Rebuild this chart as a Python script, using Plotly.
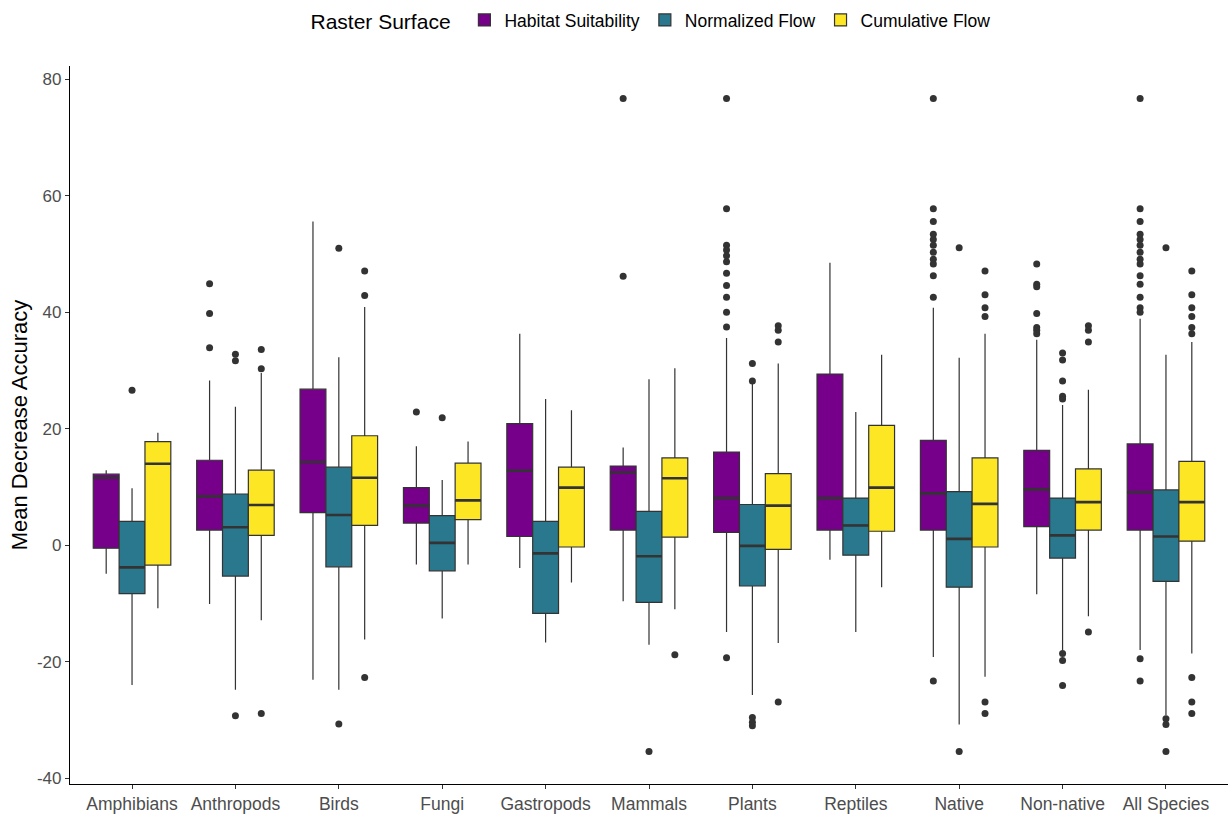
import plotly.graph_objects as go

categories = ["Amphibians", "Anthropods", "Birds", "Fungi", "Gastropods", "Mammals",
              "Plants", "Reptiles", "Native", "Non-native", "All Species"]
series_names = ["Habitat Suitability", "Normalized Flow", "Cumulative Flow"]
colors = ["#77008A", "#2A788E", "#FDE725"]
y_ticks = [-40, -20, 0, 20, 40, 60, 80]
y_tick_labels = ["-40", "-20", "0", "20", "40", "60", "80"]

# Habitat Suitability
hs_lower = [-4.9, -10.1, -23.1, -3.3, -3.9, -9.6, -14.9, -2.5, -19.2, -8.4, -18.0]
hs_q1 = [-0.5, 2.6, 5.6, 3.8, 1.5, 2.6, 2.2, 2.6, 2.6, 3.2, 2.6]
hs_med = [11.6, 8.4, 14.3, 6.8, 12.8, 12.5, 8.1, 8.1, 8.9, 9.6, 9.1]
hs_q3 = [12.2, 14.6, 26.8, 9.9, 20.9, 13.6, 16.0, 29.4, 18.0, 16.3, 17.4]
hs_upper = [12.9, 28.3, 55.6, 17.0, 36.3, 16.8, 35.6, 48.5, 40.8, 35.3, 38.9]
hs_out = [
    [],
    [44.9, 39.8, 33.9],
    [],
    [22.9],
    [],
    [76.7, 46.2],
    [76.7, 57.8, 51.5, 50.7, 49.7, 48.7, 46.7, 44.6, 42.6, 40.0, 37.5, -19.3],
    [],
    [76.7, 57.8, 55.6, 53.4, 52.5, 51.5, 50.3, 49.1, 48.3, 46.3, 42.6, -23.3],
    [48.3, 44.8, 44.4, 39.8, 37.4, 36.9, 36.3],
    [76.7, 57.8, 55.6, 53.4, 52.5, 51.5, 50.3, 49.1, 48.3, 46.3, 44.8, 42.6, 40.8, 40.0,
     -19.5, -23.3],
]

# Normalized Flow
nf_lower = [-24.0, -24.8, -24.8, -12.6, -16.7, -17.1, -25.7, -14.9, -30.8, -18.0, -29.2]
nf_q1 = [-8.3, -5.3, -3.7, -4.4, -11.7, -9.8, -7.0, -1.7, -7.2, -2.2, -6.2]
nf_med = [-3.8, 3.1, 5.2, 0.4, -1.4, -1.9, -0.1, 3.4, 1.1, 1.7, 1.5]
nf_q3 = [4.1, 8.8, 13.4, 5.1, 4.1, 5.8, 7.0, 8.1, 9.2, 8.1, 9.5]
nf_upper = [9.8, 23.8, 32.3, 11.2, 25.1, 28.5, 27.8, 22.9, 32.2, 24.1, 32.7]
nf_out = [
    [26.6],
    [32.8, 31.7, -29.3],
    [51.0, -30.7],
    [21.9],
    [],
    [-35.4],
    [31.2, 28.2, -29.6, -30.4, -31.0],
    [],
    [51.1, -35.4],
    [33.0, 31.8, 28.2, 25.6, 25.1, -18.6, -19.8, -24.1],
    [51.1, -29.8, -30.8, -35.4],
]

# Cumulative Flow
cf_lower = [-10.8, -12.9, -16.2, -3.3, -6.4, -11.0, -16.8, -7.2, -22.6, -12.2, -18.6]
cf_q1 = [-3.4, 1.7, 3.4, 4.4, -0.3, 1.4, -0.7, 2.4, -0.3, 2.6, 0.7]
cf_med = [14.0, 6.9, 11.6, 7.7, 9.9, 11.5, 6.8, 9.9, 7.1, 7.4, 7.4]
cf_q3 = [17.8, 12.9, 18.8, 14.1, 13.4, 15.0, 12.3, 20.6, 15.0, 13.1, 14.4]
cf_upper = [19.3, 29.6, 40.9, 17.8, 23.2, 30.4, 31.2, 32.7, 36.3, 26.7, 34.9]
cf_out = [
    [],
    [33.6, 30.3, -28.9],
    [47.1, 42.9, -22.7],
    [],
    [],
    [-18.8],
    [37.7, 36.9, 34.9, -26.9],
    [],
    [47.1, 43.0, 40.8, 39.3, -26.9, -28.9],
    [37.7, 36.9, 34.9, -14.9],
    [47.1, 43.0, 40.8, 39.3, 37.4, 36.3, -22.7, -26.9, -28.9],
]

stats = [
    (hs_lower, hs_q1, hs_med, hs_q3, hs_upper, hs_out),
    (nf_lower, nf_q1, nf_med, nf_q3, nf_upper, nf_out),
    (cf_lower, cf_q1, cf_med, cf_q3, cf_upper, cf_out),
]

fig = go.Figure()
for k, (name, col, (lo, q1, md, q3, up, outs)) in enumerate(zip(series_names, colors, stats)):
    fig.add_trace(go.Box(
        name=name, x=categories, q1=q1, median=md, q3=q3,
        lowerfence=lo, upperfence=up,
        fillcolor=col, line=dict(color="#333333", width=1.2),
        whiskerwidth=0, boxpoints=False, offsetgroup=str(k),
        hoverinfo="skip",
    ))
# thicker median bars (ggplot style)
for k, (name, (lo, q1, md, q3, up, outs)) in enumerate(zip(series_names, stats)):
    fig.add_trace(go.Box(
        name=name, x=categories, q1=md, median=md, q3=md,
        lowerfence=md, upperfence=md,
        fillcolor="rgba(0,0,0,0)", line=dict(color="#333333", width=2.6),
        whiskerwidth=0, boxpoints=False, offsetgroup=str(k),
        showlegend=False, hoverinfo="skip",
    ))
for k, (name, (lo, q1, md, q3, up, outs)) in enumerate(zip(series_names, stats)):
    xs, ys = [], []
    for c, vals in zip(categories, outs):
        for v in vals:
            xs.append(c)
            ys.append(v)
    fig.add_trace(go.Scatter(
        x=xs, y=ys, mode="markers", offsetgroup=str(k), showlegend=False,
        marker=dict(color="#333333", size=7), name=name,
    ))

fig.update_layout(
    width=1231, height=816,
    template="simple_white",
    plot_bgcolor="white", paper_bgcolor="white",
    boxmode="group", boxgap=0.25, boxgroupgap=0,
    scattermode="group", scattergap=0.25,
    margin=dict(l=70, r=3, t=66, b=32),
    font=dict(family="Liberation Sans, Arial, sans-serif", color="#4D4D4D"),
    legend=dict(
        orientation="h", x=652 / 1231, xanchor="center", xref="container",
        y=1 - 21 / 816, yanchor="middle", yref="container",
        title=dict(text="Raster Surface ", font=dict(size=21, color="black")),
        font=dict(size=17.5, color="black"),
        itemwidth=30,
    ),
    xaxis=dict(
        type="category", range=[-0.6, 10.6], automargin=False,
        showline=True, linecolor="black", linewidth=1.2,
        ticks="outside", ticklen=4, tickcolor="#333333",
        tickfont=dict(size=17.5, color="#4D4D4D"),
        showgrid=False, mirror=False,
    ),
    yaxis=dict(
        range=[-41.0, 82.3], tickvals=y_ticks, ticktext=y_tick_labels, automargin=False,
        showline=True, linecolor="black", linewidth=1.2,
        ticks="outside", ticklen=4, tickcolor="#333333",
        tickfont=dict(size=17, color="#4D4D4D"),
        title=dict(text="Mean Decrease Accuracy", font=dict(size=22, color="black"), standoff=3),
        showgrid=False, zeroline=False,
    ),
)

fig.write_html(
    "out.html",
    config={"displayModeBar": False},
    post_script="document.body.style.margin='0';document.body.style.overflow='hidden';",
)
